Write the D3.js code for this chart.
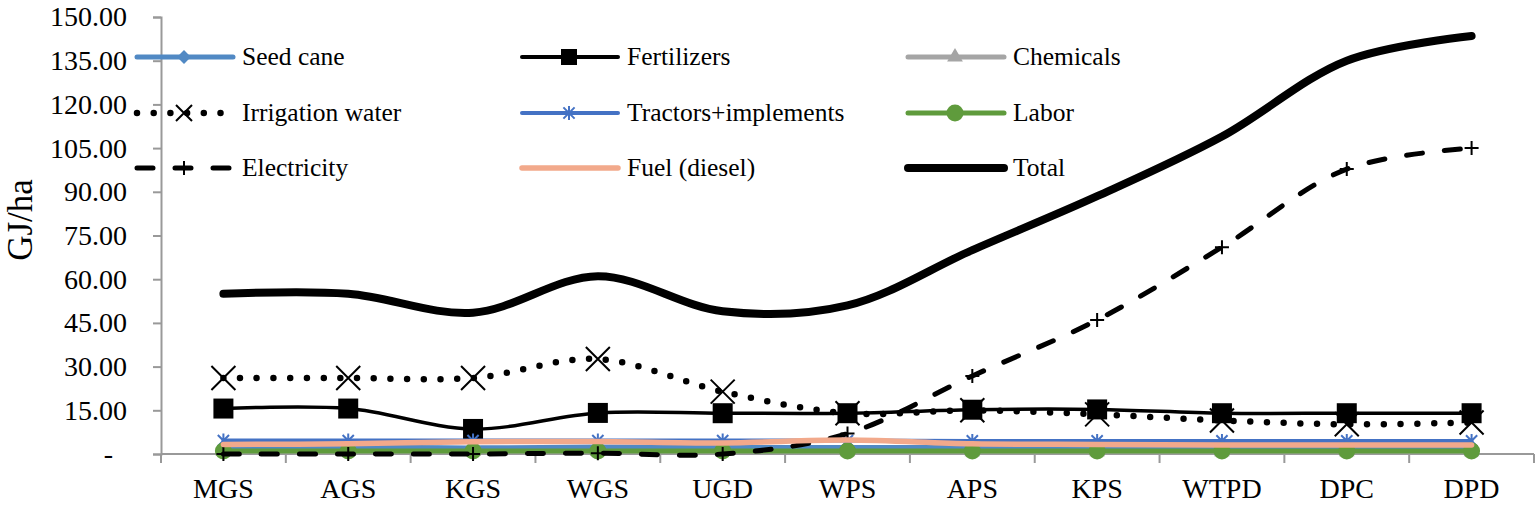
<!DOCTYPE html>
<html>
<head>
<meta charset="utf-8">
<script src="https://cdn.jsdelivr.net/npm/d3@7"></script>
<style>
  body { margin: 0; background: #fff; }
  text { font-family: "Liberation Serif", "Times New Roman", serif; fill: #000; }
</style>
</head>
<body>
<div id="chart"></div>
<script>
// categories and series (GJ/ha)
const categories = ["MGS", "AGS", "KGS", "WGS", "UGD", "WPS", "APS", "KPS", "WTPD", "DPC", "DPD"];
const seedCane = [2.4, 2.4, 2.1, 2.4, 2.3, 2.2, 2.2, 2.2, 2.2, 2.2, 2.2];
const fertilizers = [15.6, 15.6, 8.6, 14.1, 14.0, 14.0, 15.2, 15.3, 14.0, 14.0, 14.0];
const chemicals = [0.9, 0.9, 0.9, 0.9, 0.9, 0.8, 0.8, 0.8, 0.8, 0.8, 0.8];
const irrigation = [26.1, 26.1, 26.1, 32.6, 21.4, 14.0, 15.0, 13.6, 11.5, 10.2, 10.8];
const tractors = [4.6, 4.6, 4.6, 4.6, 4.6, 4.6, 4.5, 4.5, 4.5, 4.5, 4.5];
const labor = [1.0, 1.0, 1.0, 1.0, 1.0, 1.0, 1.0, 1.0, 1.0, 1.0, 1.0];
const electricity = [0, 0, 0, 0.3, 0, 7.0, 26.8, 46.0, 71.0, 97.8, 105.0];
const fuel = [3.3, 3.5, 4.2, 4.3, 3.8, 4.8, 3.5, 3.3, 3.1, 3.1, 3.1];
const total = [55.0, 55.0, 48.5, 61.0, 49.0, 51.0, 70.0, 88.5, 109.0, 135.0, 143.5];
const yTicks = [0, 15, 30, 45, 60, 75, 90, 105, 120, 135, 150];

const series = [
  {name: "Seed cane", values: seedCane, color: "#5189C4", width: 5, marker: "diamond"},
  {name: "Fertilizers", values: fertilizers, color: "#000", width: 3.5, marker: "square"},
  {name: "Chemicals", values: chemicals, color: "#A5A5A5", width: 5, marker: "triangle"},
  {name: "Irrigation water", values: irrigation, color: "#000", width: 6.5, marker: "x", dash: "0 16.7"},
  {name: "Tractors+implements", values: tractors, color: "#4472C4", width: 4, marker: "star"},
  {name: "Labor", values: labor, color: "#5F9B3C", width: 5, marker: "circle"},
  {name: "Electricity", values: electricity, color: "#000", width: 5, marker: "plus", dash: "16 22"},
  {name: "Fuel (diesel)", values: fuel, color: "#F2A98B", width: 5.5, marker: null},
  {name: "Total", values: total, color: "#000", width: 8, marker: null}
];

const W = 1536, H = 507;
const svg = d3.select("#chart").append("svg").attr("width", W).attr("height", H);

const x = d3.scaleBand().domain(categories).range([161, 1534]);
const y = d3.scaleLinear().domain([0, 150]).range([454, 17]);
const cx = d => x(d) + x.bandwidth() / 2;

// marker shapes
function markerPath(type, s) {
  if (type === "x") return `M${-s},${-s}L${s},${s}M${-s},${s}L${s},${-s}`;
  if (type === "plus") return `M${-s},0H${s}M0,${-s}V${s}`;
  if (type === "star") return `M0,${-s}V${s}M${-s*0.8},${-s*0.8}L${s*0.8},${s*0.8}M${-s*0.8},${s*0.8}L${s*0.8},${-s*0.8}`;
  if (type === "square") return d3.symbol(d3.symbolSquare, s * s * 4)();
  if (type === "diamond") return d3.symbol(d3.symbolDiamond2, s * s * 2.5)();
  if (type === "triangle") return d3.symbol(d3.symbolTriangle, s * s * 2.2)();
  if (type === "circle") return d3.symbol(d3.symbolCircle, Math.PI * s * s)();
}
const strokeMarkers = ["x", "plus", "star"];

function drawMarker(g, m, color, s) {
  const p = g.append("path").attr("d", markerPath(m, s));
  if (strokeMarkers.includes(m)) {
    p.attr("fill", "none").attr("stroke", color).attr("stroke-width", 2);
  } else {
    p.attr("fill", color);
  }
  return p;
}

// axes
const axisColor = "#999";
const yAxis = svg.append("g")
  .attr("transform", "translate(161,0)")
  .call(d3.axisLeft(y).tickValues(yTicks).tickSize(8).tickPadding(26)
    .tickFormat(d => d === 0 ? "-" : d.toFixed(2)));
yAxis.select(".domain").attr("stroke", axisColor).attr("stroke-width", 2);
yAxis.selectAll(".tick line").attr("stroke", axisColor).attr("stroke-width", 2);
yAxis.selectAll(".tick text")
  .style("font-family", "Liberation Serif").style("font-size", "28px").attr("fill", "#000")
  .attr("dx", d => d === 0 ? -14 : 0);

const xAxis = svg.append("g").attr("transform", "translate(0,454)");
xAxis.append("line").attr("x1", 161).attr("x2", 1534)
  .attr("stroke", axisColor).attr("stroke-width", 2);
xAxis.selectAll("line.tk")
  .data(d3.range(categories.length + 1))
  .join("line").attr("class", "tk")
  .attr("x1", i => 161 + i * x.step()).attr("x2", i => 161 + i * x.step())
  .attr("y1", 0).attr("y2", 9)
  .attr("stroke", axisColor).attr("stroke-width", 2);
xAxis.selectAll("text")
  .data(categories)
  .join("text")
  .attr("x", cx).attr("y", 44)
  .attr("text-anchor", "middle")
  .style("font-size", "28px")
  .text(d => d);

svg.append("text")
  .attr("transform", "translate(32,220) rotate(-90)")
  .attr("text-anchor", "middle")
  .style("font-size", "35px")
  .text("GJ/ha");

// series
const line = d3.line()
  .x((d, i) => cx(categories[i]))
  .y(d => y(d))
  .curve(d3.curveCatmullRom.alpha(0.5));

series.forEach(s => {
  const g = svg.append("g");
  g.append("path")
    .attr("d", line(s.values))
    .attr("fill", "none")
    .attr("stroke", s.color)
    .attr("stroke-width", s.width)
    .attr("stroke-linecap", "round")
    .attr("stroke-linejoin", "round")
    .attr("stroke-dasharray", s.dash || null);
  if (s.marker) {
    const size = s.marker === "x" ? 12 : s.marker === "square" ? 10 : s.marker === "circle" ? 8.5 : 7;
    s.values.forEach((v, i) => {
      drawMarker(g, s.marker, s.color, size)
        .attr("transform", `translate(${cx(categories[i])},${y(v)})`);
    });
  }
});

// legend, three columns
const legCols = [137, 522, 908];
const legRows = [57, 113, 168];
series.forEach((s, i) => {
  const lx = legCols[i % 3], ly = legRows[Math.floor(i / 3)];
  const g = svg.append("g").attr("transform", `translate(${lx},${ly})`);
  g.append("line")
    .attr("x1", 0).attr("x2", 96)
    .attr("stroke", s.color)
    .attr("stroke-width", s.name === "Fertilizers" ? 4 : s.width)
    .attr("stroke-linecap", "round")
    .attr("stroke-dasharray", s.dash || null);
  if (s.marker) {
    const size = s.marker === "x" ? 8 : s.marker === "square" ? 8 : s.marker === "circle" ? 8.5 : 7;
    drawMarker(g, s.marker, s.color, size).attr("transform", "translate(47,0)");
  }
  g.append("text")
    .attr("x", 105).attr("y", 0).attr("dy", "0.33em")
    .style("font-size", "25.5px")
    .text(s.name);
});
</script>
</body>
</html>
